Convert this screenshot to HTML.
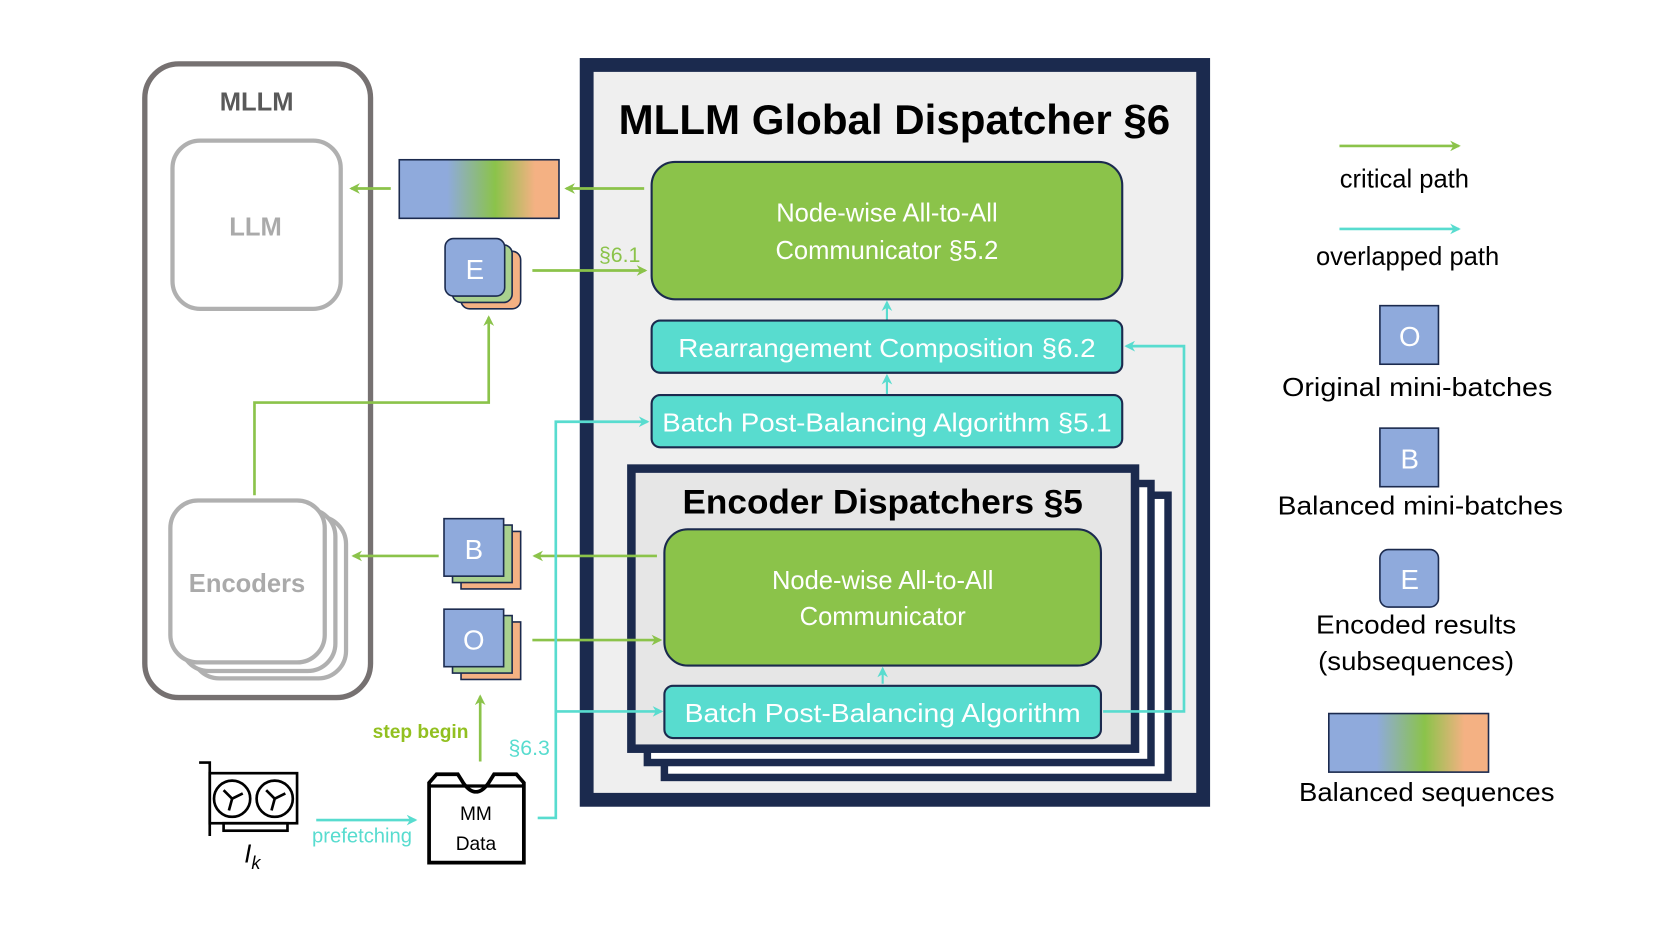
<!DOCTYPE html>
<html><head><meta charset="utf-8"><style>html,body{margin:0;padding:0;background:#fff}svg{display:block}text{font-family:"Liberation Sans",sans-serif}</style></head><body>
<svg width="1661" height="934" viewBox="0 0 1560 877" preserveAspectRatio="none" xmlns="http://www.w3.org/2000/svg">
<defs>
<linearGradient id="g" x1="0" x2="1"><stop offset="0" stop-color="#8faadc"/><stop offset="0.3" stop-color="#8faadc"/><stop offset="0.6" stop-color="#8bc34a"/><stop offset="0.85" stop-color="#f4b183"/><stop offset="1" stop-color="#f4b183"/></linearGradient>
<marker id="ag" markerWidth="10" markerHeight="10" refX="8" refY="5" orient="auto" markerUnits="userSpaceOnUse"><path d="M0,0 L10,5 L0,10 L3,5z" fill="#8bc34a"/></marker>
<marker id="ac" markerWidth="10" markerHeight="10" refX="8" refY="5" orient="auto" markerUnits="userSpaceOnUse"><path d="M0,0 L10,5 L0,10 L3,5z" fill="#58dccf"/></marker>
</defs>
<!-- MLLM -->
<rect x="136" y="60" width="212" height="595" rx="32" fill="#fff" stroke="#767171" stroke-width="5"/>
<text x="241" y="104" font-size="24" font-weight="bold" fill="#595959" text-anchor="middle">MLLM</text>
<rect x="162" y="132" width="158" height="158" rx="26" fill="#fff" stroke="#b0b0b0" stroke-width="4"/>
<text x="240" y="221" font-size="24" font-weight="bold" fill="#aaa" text-anchor="middle">LLM</text>
<rect x="180" y="485" width="145" height="152" rx="26" fill="#fff" stroke="#b0b0b0" stroke-width="4"/>
<rect x="170" y="478" width="145" height="152" rx="26" fill="#fff" stroke="#b0b0b0" stroke-width="4"/>
<rect x="160" y="470" width="145" height="152" rx="26" fill="#fff" stroke="#b0b0b0" stroke-width="4"/>
<text x="232" y="556" font-size="24" font-weight="bold" fill="#aaa" text-anchor="middle">Encoders</text>
<!-- Global dispatcher -->
<rect x="551" y="61" width="579" height="690" fill="#efefef" stroke="#1b2a4e" stroke-width="13"/>
<text x="840" y="126" font-size="39" font-weight="bold" text-anchor="middle" textLength="518" lengthAdjust="spacingAndGlyphs">MLLM Global Dispatcher §6</text>
<rect x="612" y="152" width="442" height="129" rx="22" fill="#8bc34a" stroke="#1b2a4e" stroke-width="2"/>
<text x="833" y="208" font-size="24" fill="#fff" text-anchor="middle">Node-wise All-to-All</text>
<text x="833" y="243" font-size="24" fill="#fff" text-anchor="middle">Communicator §5.2</text>
<rect x="612" y="301" width="442" height="49" rx="8" fill="#58dccf" stroke="#1b2a4e" stroke-width="2"/>
<text x="833" y="335" font-size="24" fill="#fff" text-anchor="middle" textLength="392" lengthAdjust="spacingAndGlyphs">Rearrangement Composition §6.2</text>
<rect x="612" y="371" width="442" height="49" rx="8" fill="#58dccf" stroke="#1b2a4e" stroke-width="2"/>
<text x="833" y="405" font-size="24" fill="#fff" text-anchor="middle" textLength="422" lengthAdjust="spacingAndGlyphs">Batch Post-Balancing Algorithm §5.1</text>
<rect x="624" y="465" width="473" height="265" fill="#fff" stroke="#1b2a4e" stroke-width="7"/>
<rect x="608" y="454" width="473" height="262" fill="#fff" stroke="#1b2a4e" stroke-width="7"/>
<rect x="593" y="440" width="473" height="263" fill="#e6e6e6" stroke="#1b2a4e" stroke-width="8"/>
<text x="829" y="482" font-size="32" font-weight="bold" text-anchor="middle" textLength="376" lengthAdjust="spacingAndGlyphs">Encoder Dispatchers §5</text>
<rect x="624" y="497" width="410" height="128" rx="22" fill="#8bc34a" stroke="#1b2a4e" stroke-width="2"/>
<text x="829" y="553" font-size="24" fill="#fff" text-anchor="middle">Node-wise All-to-All</text>
<text x="829" y="587" font-size="24" fill="#fff" text-anchor="middle">Communicator</text>
<rect x="624" y="644" width="410" height="49" rx="8" fill="#58dccf" stroke="#1b2a4e" stroke-width="2"/>
<text x="829" y="678" font-size="24" fill="#fff" text-anchor="middle" textLength="372" lengthAdjust="spacingAndGlyphs">Batch Post-Balancing Algorithm</text>
<!-- inner arrows -->
<line x1="833" y1="300" x2="833" y2="284" stroke="#58dccf" stroke-width="2" marker-end="url(#ac)"/>
<line x1="833" y1="370" x2="833" y2="353" stroke="#58dccf" stroke-width="2" marker-end="url(#ac)"/>
<line x1="829" y1="642" x2="829" y2="628" stroke="#58dccf" stroke-width="2" marker-end="url(#ac)"/>
<polyline points="1036,668 1112,668 1112,325 1058,325" fill="none" stroke="#58dccf" stroke-width="2.5" marker-end="url(#ac)"/>
<!-- green path encoders -> E -->
<polyline points="239,465 239,378 459,378 459,298" fill="none" stroke="#8bc34a" stroke-width="2.5" marker-end="url(#ag)"/>
<!-- gradient bar -->
<rect x="375" y="150" width="150" height="55" fill="url(#g)" stroke="#1b2a4e" stroke-width="1.5"/>
<line x1="605" y1="177" x2="532" y2="177" stroke="#8bc34a" stroke-width="2.5" marker-end="url(#ag)"/>
<line x1="367" y1="177" x2="330" y2="177" stroke="#8bc34a" stroke-width="2.5" marker-end="url(#ag)"/>
<!-- stacks -->
<g stroke="#1b2a4e" stroke-width="1.5">
<rect x="433" y="236" width="56" height="54" rx="8" fill="#f4b183"/><rect x="425" y="230" width="56" height="54" rx="8" fill="#a9d18e"/><rect x="418" y="224" width="56" height="54" rx="8" fill="#8faadc"/>
<rect x="433" y="499" width="56" height="54" fill="#f4b183"/><rect x="425" y="493" width="56" height="54" fill="#a9d18e"/><rect x="417" y="487" width="56" height="54" fill="#8faadc"/>
<rect x="433" y="584" width="56" height="54" fill="#f4b183"/><rect x="425" y="578" width="56" height="54" fill="#a9d18e"/><rect x="417" y="572" width="56" height="54" fill="#8faadc"/>
</g>
<g fill="#fff" font-size="26" text-anchor="middle"><text x="446" y="262">E</text><text x="445" y="525">B</text><text x="445" y="610">O</text></g>
<line x1="500" y1="254" x2="606" y2="254" stroke="#8bc34a" stroke-width="2.5" marker-end="url(#ag)"/>
<text x="582" y="246" font-size="20" fill="#8bc34a" text-anchor="middle">§6.1</text>
<line x1="617" y1="522" x2="502" y2="522" stroke="#8bc34a" stroke-width="2.5" marker-end="url(#ag)"/>
<line x1="412" y1="522" x2="332" y2="522" stroke="#8bc34a" stroke-width="2.5" marker-end="url(#ag)"/>
<line x1="500" y1="601" x2="620" y2="601" stroke="#8bc34a" stroke-width="2.5" marker-end="url(#ag)"/>
<line x1="451" y1="715" x2="451" y2="654" stroke="#8bc34a" stroke-width="2.5" marker-end="url(#ag)"/>
<text x="395" y="693" font-size="18" font-weight="bold" fill="#92c020" text-anchor="middle">step begin</text>
<text x="497" y="709" font-size="20" fill="#58dccf" text-anchor="middle">§6.3</text>
<!-- MM data -->
<path d="M403,810 L403,735 L410,727 L430,727 L435,735 Q447,752 459,735 L464,727 L485,727 L492,735 L492,810 Z" fill="#fff" stroke="#000" stroke-width="3.5"/>
<line x1="403" y1="738" x2="492" y2="738" stroke="#000" stroke-width="3"/>
<text x="447" y="770" font-size="18" text-anchor="middle">MM</text>
<text x="447" y="798" font-size="18" text-anchor="middle">Data</text>
<!-- GPU -->
<g fill="none" stroke="#000" stroke-width="2.5">
<polyline points="187,716 197,716 197,785"/>
<rect x="197" y="726" width="82" height="47"/>
<circle cx="218" cy="750" r="17"/><circle cx="258" cy="750" r="17"/>
<rect x="210" y="773" width="60" height="7"/>
<path d="M218,750 l-8,-8 M218,750 l10,-5 M218,750 l-3,11 M258,750 l-8,-8 M258,750 l10,-5 M258,750 l-3,11"/>
</g>
<text x="237" y="810" font-size="24" font-style="italic" font-family="Liberation Serif,serif" text-anchor="middle">I<tspan font-size="17" dy="6">k</tspan></text>
<line x1="297" y1="770" x2="390" y2="770" stroke="#58dccf" stroke-width="2.5" marker-end="url(#ac)"/>
<text x="340" y="791" font-size="19" fill="#58dccf" text-anchor="middle">prefetching</text>
<polyline points="505,768 522,768 522,396 608,396" fill="none" stroke="#58dccf" stroke-width="2.5" marker-end="url(#ac)"/>
<line x1="522" y1="668" x2="621" y2="668" stroke="#58dccf" stroke-width="2.5" marker-end="url(#ac)"/>
<!-- Legend -->
<line x1="1258" y1="137" x2="1370" y2="137" stroke="#8bc34a" stroke-width="2.5" marker-end="url(#ag)"/>
<text x="1319" y="176" font-size="24" text-anchor="middle">critical path</text>
<line x1="1258" y1="215" x2="1370" y2="215" stroke="#58dccf" stroke-width="2.5" marker-end="url(#ac)"/>
<text x="1322" y="249" font-size="24" text-anchor="middle">overlapped path</text>
<rect x="1296" y="287" width="55" height="55" fill="#8faadc" stroke="#1b2a4e" stroke-width="1.5"/>
<text x="1324" y="325" font-size="26" fill="#fff" text-anchor="middle">O</text>
<text x="1331" y="372" font-size="24" text-anchor="middle" textLength="254" lengthAdjust="spacingAndGlyphs">Original mini-batches</text>
<rect x="1296" y="402" width="55" height="55" fill="#8faadc" stroke="#1b2a4e" stroke-width="1.5"/>
<text x="1324" y="440" font-size="26" fill="#fff" text-anchor="middle">B</text>
<text x="1334" y="483" font-size="24" text-anchor="middle" textLength="268" lengthAdjust="spacingAndGlyphs">Balanced mini-batches</text>
<rect x="1296" y="516" width="55" height="54" rx="8" fill="#8faadc" stroke="#1b2a4e" stroke-width="1.5"/>
<text x="1324" y="553" font-size="26" fill="#fff" text-anchor="middle">E</text>
<text x="1330" y="595" font-size="24" text-anchor="middle" textLength="188" lengthAdjust="spacingAndGlyphs">Encoded results</text>
<text x="1330" y="629" font-size="24" text-anchor="middle" textLength="184" lengthAdjust="spacingAndGlyphs">(subsequences)</text>
<rect x="1248" y="670" width="150" height="55" fill="url(#g)" stroke="#1b2a4e" stroke-width="1.5"/>
<text x="1340" y="752" font-size="24" text-anchor="middle" textLength="240" lengthAdjust="spacingAndGlyphs">Balanced sequences</text>
</svg>
</body></html>
